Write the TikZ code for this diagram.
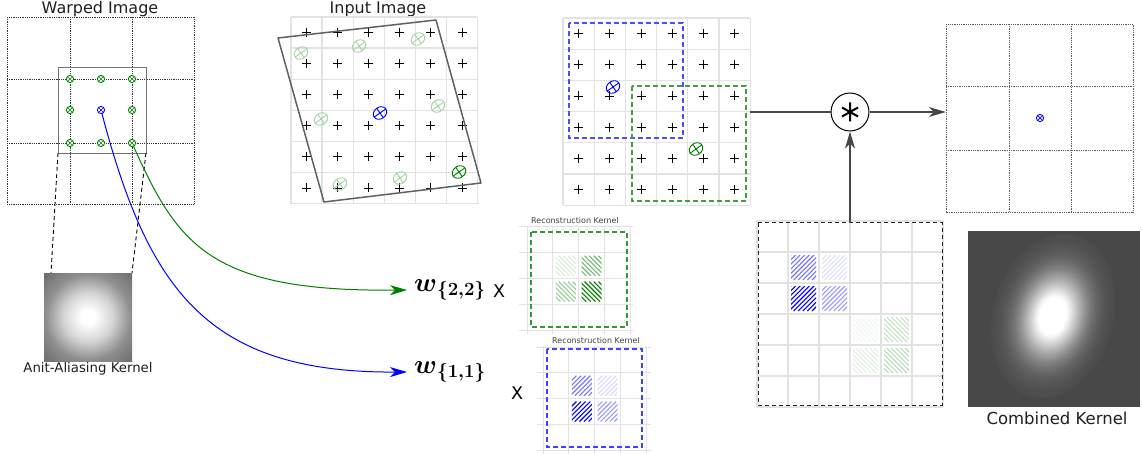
\RequirePackage{fix-cm}
\documentclass[tikz,border=0pt]{standalone}
\usepackage[no-math]{fontspec}
\setmainfont{DejaVu Sans}
\usepackage{amsmath}
\usepackage{graphicx}
\usetikzlibrary{arrows.meta}
\definecolor{dgreen}{RGB}{0,128,0}
\definecolor{aag}{RGB}{112,112,112}
\definecolor{cbg}{RGB}{72,72,72}
\definecolor{lg}{RGB}{226,226,226}
\pgfdeclareradialshading{gaussA}{\pgfpoint{0bp}{0bp}}{color(0bp)=(white); color(4bp)=(white); color(14bp)=(white!70!aag); color(24bp)=(white!22!aag); color(34bp)=(aag); color(50bp)=(aag)}
% hatched cell: x, y, size, colour ; slash = "/" , back = "\"
\newcommand\hcellslash[4]{\begin{scope}\clip (#1,#2) rectangle ++(#3,#3);
  \foreach \k in {0,...,14} \draw[#4, line width=1.1pt] (#1+\k*4.6-#3,#2+#3) -- ++(#3,-#3);\end{scope}}
\newcommand\hcellback[4]{\begin{scope}\clip (#1,#2) rectangle ++(#3,#3);
  \foreach \k in {0,...,14} \draw[#4, line width=1.1pt] (#1+\k*4.6-#3,#2) -- ++(#3,#3);\end{scope}}
\begin{document}
\begin{tikzpicture}[x=1pt,y=-1pt,
  lgrid/.style={draw=lg, line width=1.3pt},
  dotgrid/.style={draw=black!80, line width=0.9pt, dash pattern=on 0.9pt off 0.9pt},
  title/.style={font=\fontsize{16}{18}\selectfont, text=black!88},
  conn/.style={draw=black!72, line width=1.3pt},
  arr/.style={conn, -{Stealth[length=17pt,width=10pt,inset=5pt]}},
  carr/.style={line width=1pt, -{Stealth[length=17pt,width=10pt,inset=5pt]}},
  frame/.style={draw=none, inner sep=0pt},
  wlab/.style={anchor=west, inner sep=7pt, font=\fontsize{19}{21}\selectfont},
  pls/.pic={\draw[black, line width=0.9pt] (-4.5,0) -- (4.5,0) (0,-4.5) -- (0,4.5);},
  otm/.pic={\draw[line width=0.9pt, fill=white] (0,0) circle[radius=3.6]; \draw[line width=0.7pt] (-2.5,-2.5) -- (2.5,2.5) (-2.5,2.5) -- (2.5,-2.5);},
  elm/.pic={\draw[line width=0.9pt, rotate=35] (0,0) ellipse[x radius=7.2, y radius=5.8] (-7.2,0) -- (7.2,0) (0,-5.8) -- (0,5.8);},
]
\useasboundingbox (0,0) rectangle (1142,454);

% ---------------- Warped image ----------------
\node[title] (twarp) at (100,9) {Warped Image};
\node[frame, minimum width=187pt, minimum height=187pt] (warp) at (100.5,110.5) {};
\draw[dotgrid] (7,17) rectangle (194,204);
\draw[dotgrid] (70,17) -- (70,204) (132,17) -- (132,204) (7,79) -- (194,79) (7,143) -- (194,143);
\draw[black!55, line width=0.9pt] (58,67) rectangle (146,153);
\coordinate (ddl) at (58,153);
\coordinate (ddr) at (146,153);
\foreach \p in {(70,79),(101,79),(132,79),(70,110),(132,110),(70,143),(101,143)}
  \pic[color=dgreen] at \p {otm};
\coordinate (g33) at (132,143);
\coordinate (b22) at (101,110);

% anti-aliasing kernel
\node[frame, minimum size=88pt, shading=gaussA] (aak) at (88,317) {};
\coordinate (aal) at (51,273);
\coordinate (aar) at (132,273);
\draw[black, line width=0.9pt, dash pattern=on 4pt off 3pt] (ddl) -- (aal) (ddr) -- (aar);
\node[font=\fontsize{13.3}{15}\selectfont, text=black!88] (aalab) at (88,369) {Anit-Aliasing Kernel};

% ---------------- Input image ----------------
\node[title] (tin) at (378,9) {Input Image};
\node[frame, minimum width=187pt, minimum height=187pt] (inimg) at (384,110.5) {};
\foreach \i in {0,...,6} {
  \draw[lgrid] (291+31.1*\i,17) -- (291+31.1*\i,204);
  \draw[lgrid] (291,17+31.1*\i) -- (477,17+31.1*\i);
}
\foreach \i in {0,...,5} \foreach \j in {0,...,5}
  \pic at (306.5+31.1*\i,32.5+31.1*\j) {pls};
\draw[black!62, line width=1.5pt, line join=round] (278,38) -- (436,20) -- (481,183) -- (324,202) -- cycle;
\foreach \p in {(301,53),(359,46),(418,39),(438,106),(321,119),(340,184),(400,178)}
  \pic[color=dgreen!35] at \p {elm};
\pic[color=dgreen] at (459,172) {elm};
\pic[color=blue] at (380,113) {elm};

% ---------------- Middle grid ----------------
\node[frame, minimum width=187pt, minimum height=187pt] (mid) at (656.5,111.5) {};
\foreach \i in {0,...,6} {
  \draw[lgrid] (563+31.2*\i,18) -- (563+31.2*\i,205);
  \draw[lgrid] (563,18+31.2*\i) -- (750,18+31.2*\i);
}
\foreach \i in {0,...,5} \foreach \j in {0,...,5}
  \pic at (578.6+31.2*\i,33.6+31.2*\j) {pls};
\draw[blue!70, line width=1.1pt, dash pattern=on 5pt off 3pt] (569,23) rectangle (683,138);
\draw[dgreen!75, line width=1.1pt, dash pattern=on 5pt off 3pt] (632,86) rectangle (746,201);
\pic[color=blue] at (613,87) {elm};
\pic[color=dgreen] at (696,149) {elm};

% ---------------- Convolution ----------------
\node[circle, draw=black, line width=1pt, minimum size=38pt, inner sep=0pt] (conv) at (850,112) {};
\draw[black, line width=2pt] (850,102.5) -- (850,121.5) (842,107.5) -- (858,116.5) (842,116.5) -- (858,107.5);

% ---------------- Right grid ----------------
\node[frame, minimum width=187pt, minimum height=188pt] (rgrid) at (1039.5,118) {};
\draw[dotgrid, draw=black!65] (946,24) rectangle (1133,212);
\draw[dotgrid, draw=black!65] (1009,24) -- (1009,212) (1071,24) -- (1071,212) (946,86) -- (1133,86) (946,150) -- (1133,150);
\pic[color=blue] at (1040,118) {otm};

% ---------------- Combined kernel grid ----------------
\node[frame, minimum width=184pt, minimum height=182pt] (cbox) at (850,314) {};
\foreach \i in {0,...,6} {
  \draw[lgrid] (757+31*\i,221) -- (757+31*\i,407);
  \draw[lgrid] (757,221+31*\i) -- (943,221+31*\i);
}
\foreach \c/\r/\col in {1/1/blue!55, 2/1/blue!12, 1/2/blue, 2/2/blue!40}
  {\hcellslash{757+31*\c+3}{221+31*\r+3}{25}{\col}}
\foreach \c/\r/\col in {3/3/dgreen!6, 4/3/dgreen!22, 3/4/dgreen!12, 4/4/dgreen!28}
  {\hcellback{757+31*\c+3}{221+31*\r+3}{25}{\col}}
\draw[black!85, line width=1pt, dash pattern=on 4pt off 3pt] (758,223) rectangle (942,405);

% ---------------- Combined kernel image ----------------
\begin{scope}
  \clip (968,231) rectangle (1140,407);
  \fill[cbg] (968,231) rectangle (1140,407);
  \foreach \i in {0,...,39} {
    \pgfmathsetmacro\rr{1-\i/40}
    \pgfmathsetmacro\pp{min(100,125*exp(-(\rr/0.5)^2))}
    \fill[white!\pp!cbg, rotate around={-16:(1053,316)}] (1053,316) ellipse[x radius=60*\rr, y radius=84*\rr];
  }
\end{scope}
\node[frame, minimum width=172pt, minimum height=176pt] (ckimg) at (1054,319) {};
\node[font=\fontsize{16.5}{18}\selectfont, text=black!88] (cklab) at (1057,418) {Combined Kernel};

% ---------------- Reconstruction kernels ----------------
\node[font=\fontsize{8}{9}\selectfont, text=black!75] (rtg) at (575,221) {Reconstruction Kernel};
\begin{scope}
  \clip (519,226) rectangle (633,334);
  \foreach \i in {0,...,4} {
    \draw[lgrid, line width=1pt] (527+25.8*\i,226) -- (527+25.8*\i,334);
    \draw[lgrid, line width=1pt] (519,227+25.8*\i) -- (633,227+25.8*\i);
  }
\end{scope}
\foreach \c/\r/\col in {1/1/dgreen!15, 2/1/dgreen!55, 1/2/dgreen!40, 2/2/dgreen}
  {\hcellback{527+25.8*\c+3}{227+25.8*\r+3}{20}{\col}}
\draw[dgreen!80, line width=1.1pt, dash pattern=on 5pt off 3pt] (531,232) rectangle (627,327);
\node[frame, minimum width=96pt, minimum height=95pt] (rkg) at (579,279.5) {};

\node[font=\fontsize{8}{9}\selectfont, text=black!75] (rtb) at (596,341) {Reconstruction Kernel};
\begin{scope}
  \clip (537,346) rectangle (651,454);
  \foreach \i in {0,...,4} {
    \draw[lgrid, line width=1pt] (543+25.8*\i,346) -- (543+25.8*\i,454);
    \draw[lgrid, line width=1pt] (537,347+25.8*\i) -- (651,347+25.8*\i);
  }
\end{scope}
\foreach \c/\r/\col in {1/1/blue!55, 2/1/blue!15, 1/2/blue, 2/2/blue!40}
  {\hcellslash{543+25.8*\c+3}{347+25.8*\r+3}{20}{\col}}
\draw[blue!75, line width=1.1pt, dash pattern=on 5pt off 3pt] (547,349) rectangle (642,447);
\node[frame, minimum width=95pt, minimum height=98pt] (rkb) at (594.5,398) {};

% ---------------- Weights ----------------
\node[wlab] (w22) at (407,290) {\scalebox{1.4}{$\boldsymbol{w}_{\boldsymbol{\{2,2\}}}$}};
\node[font=\fontsize{17.5}{19}\selectfont] (x22) at (499,291) {X};
\node[wlab] (w11) at (407,372) {\scalebox{1.4}{$\boldsymbol{w}_{\boldsymbol{\{1,1\}}}$}};
\node[font=\fontsize{17.5}{19}\selectfont] (x11) at (517,393) {X};

% ---------------- Connectors ----------------
\draw[carr, dgreen] (g33) .. controls (177,243) and (207,292) .. (w22.west);
\draw[carr, blue] (b22) .. controls (148,290) and (207,373) .. (w11.west);
\pic[color=dgreen] at (g33) {otm};
\pic[color=blue] at (b22) {otm};
\draw[conn] (mid.east |- conv) -- (conv);
\draw[arr] (conv) -- (rgrid.west |- conv);
\draw[arr] (cbox.north) -- (conv.south);
\end{tikzpicture}
\end{document}
